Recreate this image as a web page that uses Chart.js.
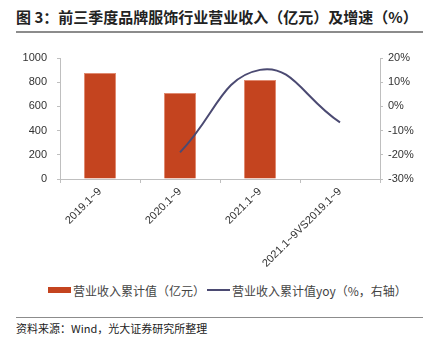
<!DOCTYPE html>
<html>
<head>
<meta charset="utf-8">
<script src="https://cdn.jsdelivr.net/npm/chart.js@4/dist/chart.umd.min.js"></script>
<style>
  body{margin:0;background:#fff;font-family:"Liberation Sans","Noto Sans CJK SC",sans-serif;}
  #wrap{position:relative;width:433px;height:344px;overflow:hidden;}
  #titulo{position:absolute;left:16px;top:6px;font-size:15px;font-weight:bold;color:#222;font-family:"Noto Sans CJK SC",sans-serif;letter-spacing:0px;}
  #linea1{position:absolute;left:16px;top:31px;width:407px;height:2px;background:#8c8c8c;}
  #cajaChart{position:absolute;left:0;top:38px;width:433px;height:240px;}
  #leyenda{position:absolute;left:0;top:282px;width:433px;height:16px;font-size:12px;color:#444;font-family:"Noto Sans CJK SC",sans-serif;}
  .itm{position:absolute;top:0;white-space:nowrap;}
  .caja{position:absolute;}
  #linea2{position:absolute;left:16px;top:317px;width:407px;height:1px;background:#8c8c8c;}
  #fuente{position:absolute;left:16px;top:320px;font-size:11px;color:#222;font-family:"Noto Sans CJK SC",sans-serif;}
</style>
</head>
<body>
<div id="wrap">
  <div id="titulo">图 3：前三季度品牌服饰行业营业收入（亿元）及增速（%）</div>
  <div id="linea1"></div>
  <div id="cajaChart"><canvas id="grafico"></canvas></div>
  <div id="leyenda">
    <div class="caja" style="left:48px;top:5px;width:23px;height:6px;background:#c4441f;"></div>
    <div class="itm" style="left:73px;" id="lblBar"></div>
    <div class="caja" style="left:207px;top:7px;width:23px;height:2px;background:#4b4a72;"></div>
    <div class="itm" style="left:232px;" id="lblLinea"></div>
  </div>
  <div id="linea2"></div>
  <div id="fuente">资料来源：Wind，光大证券研究所整理</div>
</div>
<script>
// datos
const categorias = ["2019.1~9","2020.1~9","2021.1~9","2021.1~9VS2019.1~9"];
const ingresos   = [876, 711, 818, null];
const yoy        = [null, -19.0, 15.1, -6.6];
const nombreBar   = "营业收入累计值（亿元）";
const nombreLinea = "营业收入累计值yoy（%，右轴）";

const colorBar   = "#c4441f";
const colorLinea = "#4b4a72";
const colorEje   = "#bfbfbf";
const colorTexto = "#333";

document.getElementById("lblBar").textContent = nombreBar;
document.getElementById("lblLinea").textContent = nombreLinea;

const ctx = document.getElementById("grafico").getContext("2d");
new Chart(ctx, {
  data: {
    labels: categorias,
    datasets: [
      {
        type: "line",
        label: nombreLinea,
        data: yoy,
        yAxisID: "yDer",
        borderColor: colorLinea,
        borderWidth: 2,
        pointRadius: 0,
        tension: 0.45,
        fill: false
      },
      {
        type: "bar",
        label: nombreBar,
        data: ingresos,
        yAxisID: "yIzq",
        backgroundColor: colorBar,
        borderColor: "#e08a70",
        borderWidth: {left:1,right:1,top:1,bottom:0},
        categoryPercentage: 1.0,
        barPercentage: 0.4
      }
    ]
  },
  options: {
    responsive: true,
    maintainAspectRatio: false,
    animation: false,
    layout: { padding: { top: 20, left: 0, right: 0, bottom: 0 } },
    plugins: {
      legend: { display: false },
      tooltip: { enabled: false }
    },
    scales: {
      x: {
        offset: true,
        grid: { offset: true, drawOnChartArea: false, color: colorEje, tickLength: 4 },
        border: { color: colorEje },
        ticks: {
          minRotation: 45, maxRotation: 45,
          color: colorTexto, padding: 2,
          font: { family: "Liberation Sans", size: 11 }
        },
        afterFit: function(eje){ eje.height = 99; }
      },
      yIzq: {
        position: "left",
        min: 0, max: 1000,
        ticks: {
          stepSize: 200, color: colorTexto, padding: 10,
          font: { family: "Liberation Sans", size: 11 },
          callback: function(v){ return String(v); }
        },
        grid: { drawOnChartArea: false, color: colorEje, tickLength: 3 },
        border: { color: colorEje },
        afterFit: function(eje){ eje.width = 60; }
      },
      yDer: {
        position: "right",
        min: -30, max: 20,
        ticks: {
          stepSize: 10, color: colorTexto, padding: 5,
          font: { family: "Liberation Sans", size: 11 },
          callback: function(v){ return v + "%"; }
        },
        grid: { drawOnChartArea: false, color: colorEje, tickLength: 3 },
        border: { color: colorEje },
        afterFit: function(eje){ eje.width = 53; }
      }
    }
  }
});
</script>
</body>
</html>
